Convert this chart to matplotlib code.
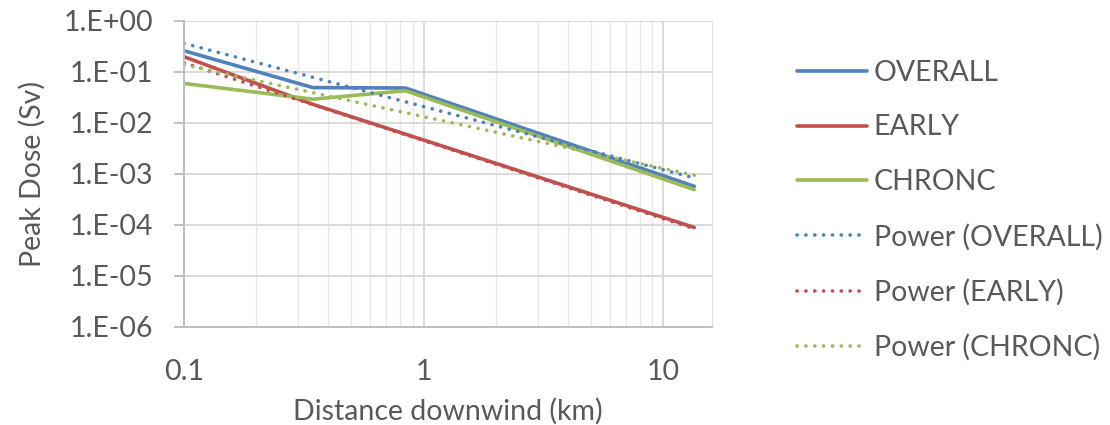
import numpy as np
import matplotlib
matplotlib.use("Agg")
import matplotlib.pyplot as plt
from matplotlib.ticker import FixedLocator, FuncFormatter, NullFormatter

plt.rcParams['font.family'] = ['Lato', 'DejaVu Sans']

# distances downwind (km) and peak doses (Sv)
distance = [0.1, 0.345, 0.84, 13.5]
overall = [0.258, 0.049, 0.048, 5.7e-4]
early = [0.197, 0.023, 0.0060, 8.9e-5]
chronc = [0.059, 0.029, 0.0425, 4.9e-4]

# power trendlines, read at both ends of the data range
trend_x = [0.1, 13.5]
trend_overall = [0.36, 8.3e-4]
trend_early = [0.15, 8.4e-5]
trend_chronc = [0.137, 9.4e-4]

labels = ['OVERALL', 'EARLY', 'CHRONC',
          'Power (OVERALL)', 'Power (EARLY)', 'Power (CHRONC)']
blue, red, green = '#4F81BD', '#C0504D', '#9BBB59'
text_col = '#595959'
fs = 20.5

fig = plt.figure(figsize=(11.1, 4.25), dpi=100)
ax = fig.add_axes([184 / 1110, 1 - 327 / 425, (712 - 184) / 1110, (327 - 20.7) / 425])

lw = 2.6
dots = (0, (0.05, 2.4))
ax.plot(distance, overall, color=blue, lw=lw, label=labels[0], solid_capstyle='round')
ax.plot(distance, early, color=red, lw=lw, label=labels[1], solid_capstyle='round')
ax.plot(distance, chronc, color=green, lw=lw, label=labels[2], solid_capstyle='round')
ax.plot(trend_x, trend_overall, color=blue, lw=lw, ls=dots, dash_capstyle='round', label=labels[3])
ax.plot(trend_x, trend_early, color=red, lw=lw, ls=dots, dash_capstyle='round', label=labels[4])
ax.plot(trend_x, trend_chronc, color=green, lw=lw, ls=dots, dash_capstyle='round', label=labels[5])

ax.set_xscale('log')
ax.set_yscale('log')
ax.set_xlim(0.1, 16)
ax.set_ylim(1e-6, 1)

ax.yaxis.set_major_locator(FixedLocator([10.0 ** k for k in range(-6, 1)]))
ax.yaxis.set_minor_locator(FixedLocator([]))
ax.yaxis.set_major_formatter(FuncFormatter(lambda v, p: "1.E%+03d" % int(round(np.log10(v)))))
ax.xaxis.set_major_locator(FixedLocator([0.1, 1, 10]))
ax.xaxis.set_major_formatter(FuncFormatter(lambda v, p: "%g" % v))
ax.xaxis.set_minor_locator(FixedLocator([m * 10.0 ** k for k in range(-1, 2) for m in range(2, 10)]))
ax.xaxis.set_minor_formatter(NullFormatter())

ax.grid(True, which='major', color='#D9D9D9', lw=1.4)
ax.grid(True, which='minor', axis='x', color='#E8E8E8', lw=1.0)
ax.set_axisbelow(True)

ax.spines['top'].set_visible(False)
ax.spines['right'].set_color('#E3E3E3')
ax.spines['left'].set_color('#BFBFBF')
ax.spines['bottom'].set_color('#BFBFBF')
ax.spines['left'].set_linewidth(1.4)
ax.spines['bottom'].set_linewidth(1.4)

ax.tick_params(axis='y', which='major', length=7, width=1.4, color='#BFBFBF',
               labelsize=fs, labelcolor=text_col, pad=15)
ax.tick_params(axis='x', which='both', length=0, labelsize=fs, labelcolor=text_col, pad=23)

ax.set_xlabel('Distance downwind (km)', fontsize=fs, color=text_col, labelpad=9)
ax.set_ylabel('Peak Dose (Sv)', fontsize=fs, color=text_col, labelpad=13)

ax.legend(loc='upper left', bbox_to_anchor=(797 / 1110, 1 - 60 / 425),
          bbox_transform=fig.transFigure, frameon=False, fontsize=fs,
          handlelength=2.45, handletextpad=0.25, labelspacing=1.0,
          borderaxespad=0, borderpad=0, labelcolor=text_col)

fig.savefig('out.png', dpi=100)
